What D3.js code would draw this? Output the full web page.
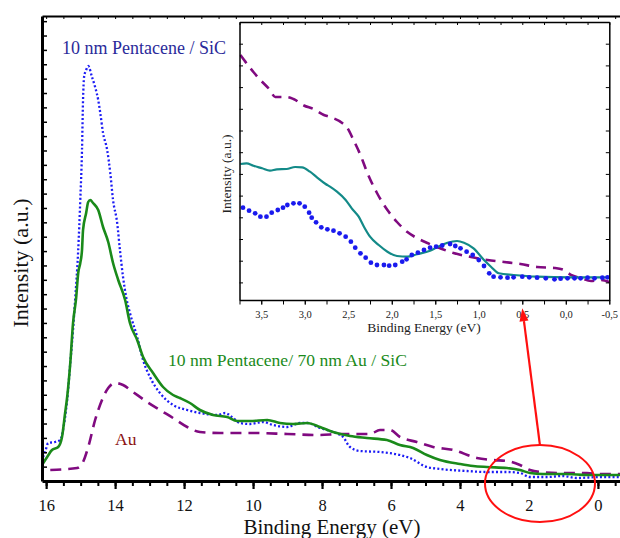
<!DOCTYPE html>
<html><head><meta charset="utf-8">
<script src="https://cdn.jsdelivr.net/npm/d3@7"></script>
<style>
body{margin:0;background:#fff}
svg{display:block}
text{font-family:"Liberation Serif","Times New Roman",serif}
</style>
</head><body><svg id="c" width="620" height="538" font-family="Liberation Serif"></svg>
<script>
// ---------- main spectra (binding energy eV, intensity a.u.) ----------
const pentaceneSiC = [[16.09,24],[16.03,29],[15.94,38],[15.74,39],[15.59,41],[15.51,51],[15.45,64],[15.39,81],[15.30,118],[15.22,151],[15.16,181],[15.07,231],[15.01,281],[14.96,331],[14.93,381],[14.90,404],[14.84,411],[14.78,415],[14.67,404],[14.58,394],[14.49,381],[14.43,368],[14.35,348],[14.23,331],[14.14,308],[14.06,281],[13.94,258],[13.86,231],[13.77,204],[13.68,184],[13.57,168],[13.36,144],[13.19,121],[12.99,104],[12.70,88],[12.32,76],[11.91,71],[11.54,68],[11.04,66],[10.81,68],[10.58,63],[10.38,58],[10.09,57],[9.71,59],[9.42,56],[9.01,54],[8.64,58],[8.43,58],[8.06,53],[7.68,49],[7.39,44],[7.19,34],[6.90,30],[6.32,29],[5.74,26],[5.45,23],[4.96,14],[4.58,12],[3.80,10],[3.22,9],[2.64,9],[2.26,8],[1.97,4],[1.48,4],[1.01,5],[0.61,3],[-0.06,4],[-0.64,4]];
const pentaceneAuSiC = [[16.12,16],[15.97,24],[15.83,31],[15.65,34],[15.54,44],[15.45,68],[15.39,84],[15.30,118],[15.22,158],[15.13,183],[15.07,208],[15.01,218],[14.96,231],[14.93,251],[14.84,268],[14.78,279],[14.72,281],[14.64,278],[14.49,271],[14.35,254],[14.20,239],[14.06,218],[13.91,201],[13.71,181],[13.57,158],[13.36,141],[13.19,124],[12.90,108],[12.61,94],[12.32,86],[12.12,83],[11.83,78],[11.54,71],[11.16,66],[10.75,64],[10.46,60],[10.09,60],[9.59,61],[9.22,58],[8.84,57],[8.43,58],[8.06,54],[7.68,49],[7.19,45],[6.70,43],[6.12,41],[5.74,36],[5.36,33],[4.96,26],[4.58,21],[4.00,17],[3.62,15],[3.22,14],[2.64,13],[2.26,11],[1.97,8],[1.59,7],[0.90,7],[0.32,6],[-0.64,6]];
const gold = [[15.88,11],[15.10,13],[14.93,19],[14.78,34],[14.58,61],[14.38,81],[14.20,93],[14.00,98],[13.77,96],[13.48,89],[13.07,79],[12.70,71],[12.32,63],[11.91,54],[11.54,49],[10.96,48],[10.00,48],[9.01,47],[8.06,46],[7.48,47],[6.61,47],[6.32,51],[6.03,51],[5.74,44],[5.25,39],[4.78,34],[4.20,31],[3.51,23],[3.04,21],[2.64,20],[2.26,16],[1.97,11],[1.68,9],[1.10,8],[0.32,8],[-0.06,7],[-0.64,7]];

// ---------- inset spectra (valence band edge) ----------
const insetGold = [[3.74,245],[3.59,228],[3.51,220],[3.40,210],[3.34,203],[3.21,203],[3.13,201],[3.01,194.5],[2.90,191],[2.78,185],[2.71,183],[2.57,177],[2.51,172],[2.44,160],[2.36,145],[2.28,127],[2.17,107],[2.05,90],[1.94,78],[1.82,68],[1.69,61],[1.59,57],[1.48,53],[1.29,47],[1.09,43],[0.90,40],[0.71,38],[0.52,36],[0.33,33],[0.13,32],[0.02,30],[-0.06,25],[-0.17,22],[-0.29,19],[-0.40,20],[-0.50,18]];
const insetPentaceneAu = [[3.74,136],[3.67,136.7],[3.59,134.3],[3.49,131.7],[3.40,129.3],[3.32,130.7],[3.21,131],[3.11,133],[3.03,132.7],[2.94,128.3],[2.86,122.7],[2.76,116],[2.71,113.3],[2.63,108.3],[2.53,100],[2.46,91.7],[2.38,83.3],[2.32,73.3],[2.25,63.3],[2.15,55],[2.05,48.3],[1.94,44],[1.82,43.3],[1.71,45.7],[1.56,49.3],[1.48,52.7],[1.36,57.3],[1.25,59],[1.17,57.3],[1.06,51.7],[0.94,40],[0.86,33.3],[0.77,26.7],[0.60,25],[0.33,23.3],[-0.06,22.7],[-0.50,22.7]];
const insetPentacene = [[3.71,92.3],[3.64,89.3],[3.57,86.7],[3.51,83.3],[3.44,83.3],[3.38,87.3],[3.31,90],[3.25,92.3],[3.20,95],[3.13,96.7],[3.06,96.7],[3.00,93.3],[2.95,87.3],[2.92,82.3],[2.87,77.7],[2.81,72.7],[2.74,70.7],[2.67,69.3],[2.60,66.7],[2.53,63.3],[2.47,58.3],[2.42,52.3],[2.36,46.7],[2.30,42.3],[2.24,37.3],[2.17,35],[2.09,35],[2.03,34.3],[1.96,35],[1.88,38.3],[1.83,40.7],[1.77,45],[1.70,47.3],[1.63,50],[1.56,52.3],[1.49,53.3],[1.42,54.5],[1.33,56],[1.27,54],[1.21,51.7],[1.14,48.3],[1.07,45],[1.00,40],[0.94,34],[0.88,26.7],[0.83,23.3],[0.75,22.7],[0.67,22.3],[0.60,22.7],[0.50,23.3],[0.42,22.7],[0.33,22.3],[0.23,21.7],[0.13,20.7],[0.06,21.3],[-0.02,21.7],[-0.10,21.7],[-0.17,21.7],[-0.25,22.3],[-0.33,21.7],[-0.42,22.3],[-0.48,22.7]];

// ---------- tick labels ----------
const mainTickValues = [16,14,12,10,8,6,4,2,0];
const mainTickLabels = ["16","14","12","10","8","6","4","2","0"];
const insetTickValues = [3.5,3.0,2.5,2.0,1.5,1.0,0.5,0.0,-0.5];
const insetTickLabels = ["3,5","3,0","2,5","2,0","1,5","1,0","0,5","0,0","-0,5"];

const svg = d3.select("#c");

// ================= MAIN CHART =================
const x = d3.scaleLinear().domain([16.12,-0.64]).range([42,620]);
const y = d3.scaleLinear().domain([0,465]).range([481,16]);

const line = d3.line().x(d=>x(d[0])).y(d=>y(d[1])).curve(d3.curveMonotoneX);

svg.append("path").datum(gold).attr("d",line)
  .attr("fill","none").attr("stroke","#800a80").attr("stroke-width",2.6)
  .attr("stroke-dasharray","11,7");
svg.append("path").datum(pentaceneSiC).attr("d",line)
  .attr("fill","none").attr("stroke","#1c1cf5").attr("stroke-width",2.3)
  .attr("stroke-dasharray","2,2.2");
svg.append("path").datum(pentaceneAuSiC).attr("d",line)
  .attr("fill","none").attr("stroke","#1a8a1a").attr("stroke-width",2.6);

// top frame line + ticks
svg.append("g").attr("transform","translate(0,16)")
  .call(d3.axisBottom(x).tickValues(d3.range(16,-0.7,-0.5)).tickSize(3).tickSizeOuter(0).tickFormat(""))
  .call(g=>g.select(".domain").attr("stroke-width",2.2))
  .call(g=>g.selectAll(".tick line").attr("stroke-width",1));

// left axis, inward ticks
svg.append("g").attr("transform","translate(42,0)")
  .call(d3.axisRight(y).tickValues(d3.range(14.37,465,14.37)).tickSize(5).tickSizeOuter(0).tickFormat(""))
  .call(g=>g.select(".domain").attr("stroke-width",3))
  .call(g=>g.selectAll(".tick line").attr("stroke-width",1.5));

// bottom axis
svg.append("g").attr("transform","translate(0,481)")
  .call(d3.axisBottom(x).tickValues(d3.range(16,-0.7,-0.5)).tickSize(5).tickSizeOuter(0).tickFormat(""))
  .call(g=>g.select(".domain").attr("stroke-width",3))
  .call(g=>g.selectAll(".tick line").attr("stroke-width",2));
svg.append("g").attr("transform","translate(0,481)")
  .call(d3.axisBottom(x).tickValues(mainTickValues).tickSize(8).tickSizeOuter(0)
     .tickFormat((d,i)=>mainTickLabels[i]))
  .call(g=>g.select(".domain").remove())
  .call(g=>g.selectAll(".tick line").attr("stroke-width",2.2))
  .call(g=>g.selectAll(".tick text").attr("y",30).attr("dy",0)
      .attr("font-size",16.5).attr("fill","#111").attr("font-family","Liberation Serif"));

svg.append("text").attr("x",332).attr("y",534).attr("text-anchor","middle")
  .attr("font-size",21).attr("fill","#111").text("Binding Energy (eV)");
svg.append("text").attr("transform","translate(28,263) rotate(-90)").attr("text-anchor","middle")
  .attr("font-size",22).attr("fill","#111").text("Intensity (a.u.)");

// annotations
svg.append("text").attr("x",62).attr("y",53.5).attr("font-size",18).attr("fill","#2a2a9a")
  .text("10 nm Pentacene / SiC");
svg.append("text").attr("x",168).attr("y",366).attr("font-size",17.6).attr("fill","#1a8a1a")
  .text("10 nm Pentacene/ 70 nm Au / SiC");
svg.append("text").attr("x",115).attr("y",444.5).attr("font-size",17.5).attr("fill","#8b1212")
  .text("Au");

// ================= INSET =================
const xi = d3.scaleLinear().domain([3.75,-0.5]).range([239.5,609.3]);
const yi = d3.scaleLinear().domain([0,278]).range([300,22]);
const inset = svg.append("g");
inset.append("rect").attr("x",239.5).attr("y",22).attr("width",369.8).attr("height",278)
  .attr("fill","#fff");
svg.append("defs").append("clipPath").attr("id","ic").append("rect")
  .attr("x",239.5).attr("y",22).attr("width",369.8).attr("height",278);
const lineI = d3.line().x(d=>xi(d[0])).y(d=>yi(d[1])).curve(d3.curveMonotoneX);
const ic = inset.append("g").attr("clip-path","url(#ic)");
ic.append("path").datum(insetGold).attr("d",lineI).attr("fill","none")
  .attr("stroke","#800a80").attr("stroke-width",2.6).attr("stroke-dasharray","10,7");
ic.append("path").datum(insetPentaceneAu).attr("d",lineI).attr("fill","none")
  .attr("stroke","#138a88").attr("stroke-width",2.2);
ic.selectAll("circle").data(insetPentacene).join("circle")
  .attr("cx",d=>xi(d[0])).attr("cy",d=>yi(d[1])).attr("r",2.4).attr("fill","#1a1aee");

// inset axes
inset.append("g").attr("transform","translate(0,300)")
  .call(d3.axisBottom(xi).tickValues(d3.range(3.75,-0.6,-0.25)).tickSize(4.5).tickSizeOuter(0).tickFormat(""))
  .call(g=>g.select(".domain").attr("stroke-width",1.5));
inset.append("g").attr("transform","translate(0,300)")
  .call(d3.axisBottom(xi).tickValues(insetTickValues).tickSize(4.5).tickSizeOuter(0)
     .tickFormat((d,i)=>insetTickLabels[i]))
  .call(g=>g.select(".domain").remove())
  .call(g=>g.selectAll(".tick text").attr("y",17.5).attr("dy",0)
     .attr("font-size",10.5).attr("fill","#222").attr("font-family","Liberation Serif"));
inset.append("g").attr("transform","translate(0,22)")
  .call(d3.axisBottom(xi).tickValues(d3.range(3.75,-0.6,-0.25)).tickSize(3).tickSizeOuter(0).tickFormat(""))
  .call(g=>g.select(".domain").attr("stroke-width",1.5));
inset.append("g").attr("transform","translate(239.5,0)")
  .call(d3.axisRight(yi).tickValues(d3.range(256.3,0,-21.7)).tickSize(3.5).tickSizeOuter(0).tickFormat(""))
  .call(g=>g.select(".domain").attr("stroke-width",1.5));
inset.append("g").attr("transform","translate(609.3,0)")
  .call(d3.axisLeft(yi).tickValues(d3.range(256.3,0,-21.7)).tickSize(3.5).tickSizeOuter(0).tickFormat(""))
  .call(g=>g.select(".domain").attr("stroke-width",1.5));

inset.append("text").attr("x",424).attr("y",332).attr("text-anchor","middle")
  .attr("font-size",13.5).attr("fill","#222").text("Binding Energy (eV)");
inset.append("text").attr("transform","translate(231,174) rotate(-90)").attr("text-anchor","middle")
  .attr("font-size",13.5).attr("fill","#222").text("Intensity (a.u.)");

// ================= RED HIGHLIGHT =================
const ex = x(1.68), ey = y(-2.5);
svg.append("ellipse").attr("cx",ex).attr("cy",ey).attr("rx",55).attr("ry",38.5)
  .attr("fill","none").attr("stroke","#ff1010").attr("stroke-width",2);
const tipX = xi(0.5), tipY = yi(-8.3);
const sx = ex, sy = ey - 38;
const ang = Math.atan2(tipY - sy, tipX - sx);
const hl = 13, hw = 4.5;
const bx = tipX - hl*Math.cos(ang), by = tipY - hl*Math.sin(ang);
svg.append("line").attr("x1",sx).attr("y1",sy).attr("x2",bx).attr("y2",by)
  .attr("stroke","#ff1010").attr("stroke-width",2.2);
svg.append("path")
  .attr("d",`M${tipX},${tipY}L${bx - hw*Math.sin(ang)},${by + hw*Math.cos(ang)}L${bx + hw*Math.sin(ang)},${by - hw*Math.cos(ang)}Z`)
  .attr("fill","#ff1010");
</script></body></html>
